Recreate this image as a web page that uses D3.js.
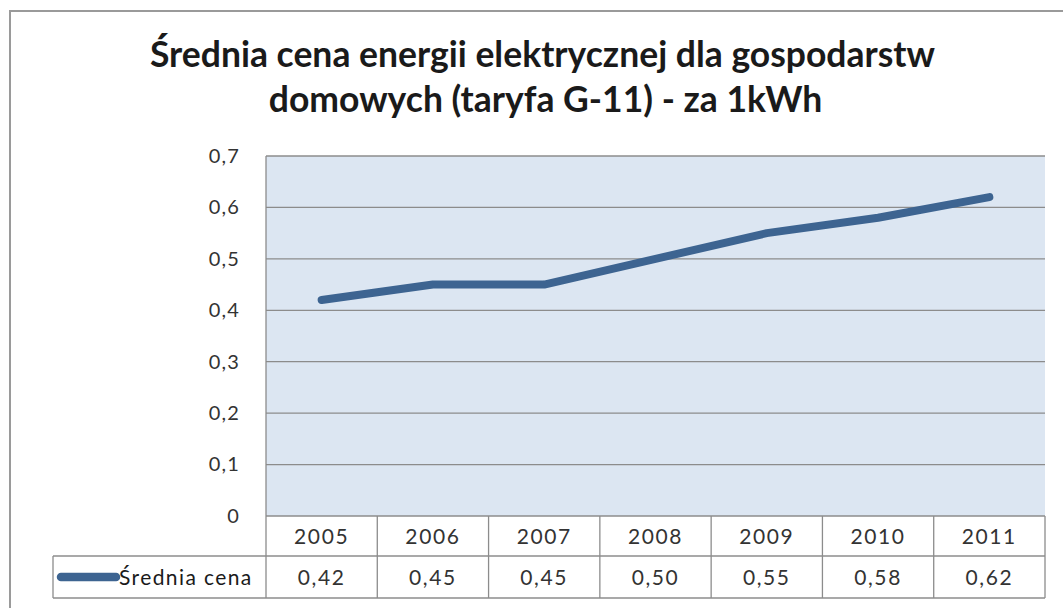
<!DOCTYPE html>
<html><head><meta charset="utf-8">
<script src="https://cdn.jsdelivr.net/npm/d3@7"></script>
<style>body{margin:0;background:#fff;}svg{display:block;font-family:Lato,"Open Sans",sans-serif;}</style>
</head><body>
<svg id="chart" width="1063" height="608"></svg>
<script>
const titleLines = ["Średnia cena energii elektrycznej dla gospodarstw", "domowych (taryfa G-11) - za 1kWh"];
const years = ["2005","2006","2007","2008","2009","2010","2011"];
const prices = [0.42,0.45,0.45,0.50,0.55,0.58,0.62];
const priceLabels = ["0,42","0,45","0,45","0,50","0,55","0,58","0,62"];
const yTicks = [0,0.1,0.2,0.3,0.4,0.5,0.6,0.7];
const seriesName = "Średnia cena";

const svg = d3.select("#chart");
const L = 266, R = 1045, T = 156, B = 516;
const row1 = 556, row2 = 598, legendLeft = 53;
const lineColor = "#3d6491", gridColor = "#8c8c8c", textColor = "#333333";
const fs = 20, ls = 1.2, tfs = 21, tls = 1.6;

// outer frame
svg.append("rect").attr("x",10).attr("y",11).attr("width",1080).attr("height",620)
  .attr("fill","#fff").attr("stroke","#9a9a9a").attr("stroke-width",2);

// title
svg.append("g").selectAll("text").data(titleLines).join("text")
  .attr("x",(d,i)=>i===0?542.5:545.5).attr("y",(d,i)=>67+i*45).attr("text-anchor","middle")
  .attr("font-size",35.5).attr("font-weight","bold").attr("fill","#1a1a1a").text(d=>d);

const x = d3.scaleBand().domain(years).range([L,R]).padding(0);
const y = d3.scaleLinear().domain([0,0.7]).range([B,T]);

svg.append("rect").attr("x",L).attr("y",T).attr("width",R-L).attr("height",B-T).attr("fill","#dce6f2");

// grid
svg.append("g").selectAll("line").data(yTicks).join("line")
  .attr("x1",L).attr("x2",R).attr("y1",d=>y(d)).attr("y2",d=>y(d))
  .attr("stroke",gridColor).attr("stroke-width",1.3);
svg.append("line").attr("x1",L).attr("x2",L).attr("y1",T).attr("y2",row2).attr("stroke",gridColor).attr("stroke-width",1.3);

// y axis labels
const yAxis = d3.axisLeft(y).tickValues(yTicks).tickSize(0).tickPadding(26)
  .tickFormat(d=>d3.format(".1f")(d).replace(".",",").replace(/^0,0$/,"0"));
const ga = svg.append("g").attr("transform",`translate(${L},0)`).call(yAxis);
ga.select(".domain").remove();
ga.selectAll("text").attr("font-size",fs).attr("letter-spacing",ls).attr("fill",textColor).attr("font-family","Lato,sans-serif");

// line
const line = d3.line().x((d,i)=>x(years[i])+x.bandwidth()/2).y(d=>y(d));
svg.append("path").datum(prices).attr("d",line).attr("fill","none")
  .attr("stroke",lineColor).attr("stroke-width",8).attr("stroke-linecap","round").attr("stroke-linejoin","round");

// data table
const tg = svg.append("g");
const hl = (x1,x2,yy)=>tg.append("line").attr("x1",x1).attr("x2",x2).attr("y1",yy).attr("y2",yy).attr("stroke",gridColor).attr("stroke-width",1.3);
hl(legendLeft,R,row1); hl(legendLeft,R,row2);
tg.append("line").attr("x1",legendLeft).attr("x2",legendLeft).attr("y1",row1).attr("y2",row2).attr("stroke",gridColor).attr("stroke-width",1.3);
tg.selectAll(".vl").data(years).join("line").attr("class","vl")
  .attr("x1",d=>x(d)+x.bandwidth()).attr("x2",d=>x(d)+x.bandwidth()).attr("y1",B).attr("y2",row2)
  .attr("stroke",gridColor).attr("stroke-width",1.3);
tg.selectAll(".yr").data(years).join("text").attr("class","yr")
  .attr("x",d=>x(d)+x.bandwidth()/2).attr("y",(B+row1)/2+7.5).attr("text-anchor","middle")
  .attr("font-size",tfs).attr("letter-spacing",tls).attr("fill",textColor).text(d=>d);
tg.selectAll(".val").data(priceLabels).join("text").attr("class","val")
  .attr("x",(d,i)=>x(years[i])+x.bandwidth()/2).attr("y",(row1+row2)/2+7.5).attr("text-anchor","middle")
  .attr("font-size",tfs).attr("letter-spacing",tls).attr("fill",textColor).text(d=>d);
// legend key
tg.append("line").attr("x1",61).attr("x2",116).attr("y1",(row1+row2)/2).attr("y2",(row1+row2)/2)
  .attr("stroke",lineColor).attr("stroke-width",8.5).attr("stroke-linecap","round");
tg.append("text").attr("x",119).attr("y",(row1+row2)/2+7.5).attr("font-size",tfs).attr("letter-spacing",1.4).attr("fill","#1a1a1a").text(seriesName);
</script>
</body></html>
